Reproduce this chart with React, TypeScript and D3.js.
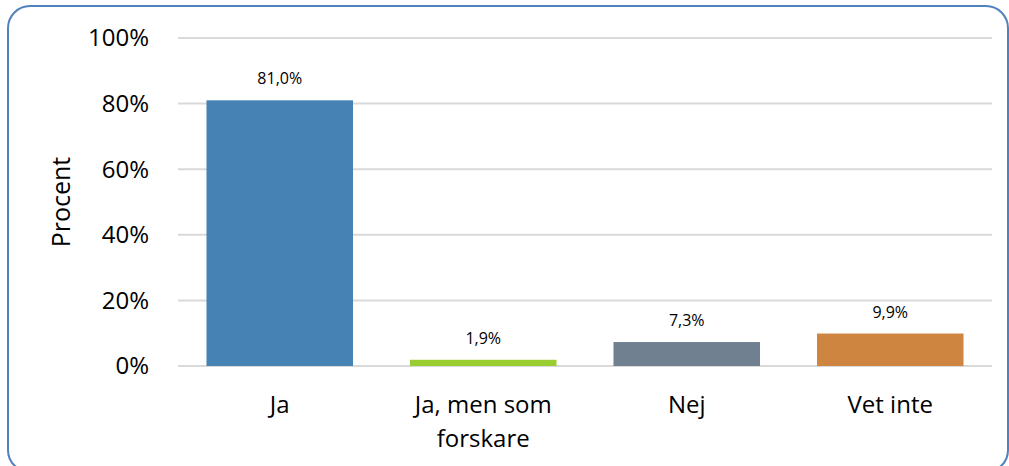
import React from "react";
import * as d3 from "d3";

const categories = ["Ja", "Ja, men som|forskare", "Nej", "Vet inte"];
const values = [81.0, 1.9, 7.3, 9.9];
const colors = ["#4682B4", "#9ACD32", "#708090", "#CD853F"];
const yTicks = [0, 20, 40, 60, 80, 100];

export default function App() {
  const W = 1009, H = 466;
  const left = 178, right = 992, top = 38, bottom = 366;
  const x = d3.scaleBand().domain(categories).range([left, right]).paddingInner(0.28).paddingOuter(0.14);
  const y = d3.scaleLinear().domain([0, 100]).range([bottom, top]);
  const font = "'Open Sans', sans-serif";
  return (
    <svg width={W} height={H} style={{ position: "absolute", left: 0, top: 0 }} fontFamily={font}>
      <rect x={0} y={0} width={W} height={H} fill="#fff" />
      <rect x={8} y={6} width={1000} height={466} rx={22} ry={22} fill="none" stroke="#4F81BD" strokeWidth={2} />
      {yTicks.map((t) => (
        <g key={t}>
          <line x1={left} x2={right} y1={y(t)} y2={y(t)} stroke="#D9D9D9" strokeWidth={2} />
          <text x={149} y={y(t)} dy="0.35em" textAnchor="end" fontSize={24} fill="#000">{t}%</text>
        </g>
      ))}
      <text transform={`translate(70,${(top + bottom) / 2}) rotate(-90)`} textAnchor="middle" fontSize={25} fill="#000">Procent</text>
      {categories.map((c, i) => {
        const bx = x(c)!;
        const bw = x.bandwidth();
        const lines = c.split("|");
        return (
          <g key={c}>
            <rect x={bx} y={y(values[i])} width={bw} height={bottom - y(values[i])} fill={colors[i]} />
            <text x={bx + bw / 2} y={y(values[i]) - 16} textAnchor="middle" fontSize={16} fill="#000">
              {values[i].toFixed(1).replace(".", ",")}%
            </text>
            {lines.map((l, j) => (
              <text key={j} x={bx + bw / 2} y={413 + j * 34} textAnchor="middle" fontSize={24} fill="#000">{l}</text>
            ))}
          </g>
        );
      })}
    </svg>
  );
}
